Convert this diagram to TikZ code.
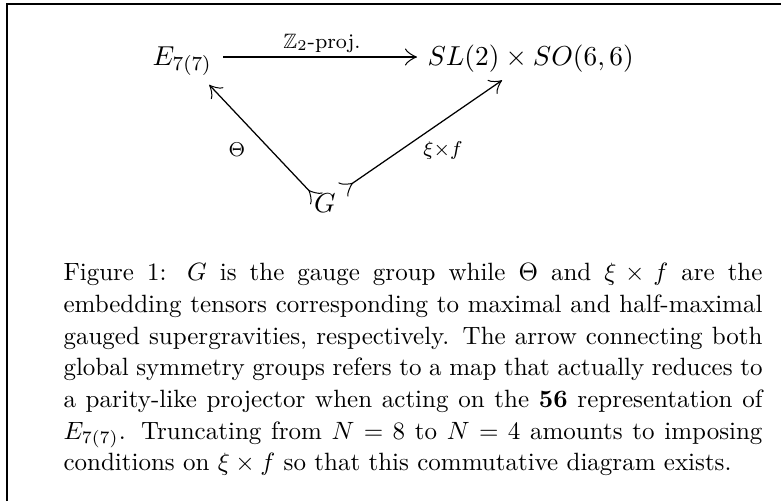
\documentclass[tikz,border=0pt]{standalone}
\usepackage{amssymb}
\usetikzlibrary{arrows.meta}
\begin{document}
\begin{tikzpicture}[x=0.4pt,y=-0.4pt,
  obj/.style={inner sep=0pt, font=\fontsize{11.39}{14}\selectfont},
  lab/.style={inner sep=0pt, font=\fontsize{8.32}{10}\selectfont},
  arr/.style={line width=0.5pt, >={Classical TikZ Rightarrow[length=4.8pt,width=6.8pt]}},
  frameline/.style={line width=0.8pt}]
\useasboundingbox (0,0) rectangle (781,501);
\draw[frameline] (7,501) -- (7,4) -- (781,4);
\node[obj, anchor=base west] (E) at (152,65) {$E_{7(7)}$};
\node[obj, anchor=base west] (S) at (427,65) {$SL(2)\times SO(6,6)$};
\node[obj, anchor=base] (G) at (325,212) {$G$};
\draw[arr,->] ([xshift=4.4pt,yshift=3.2pt]E.base east) -- ([xshift=-4pt,yshift=3.2pt]S.base west);
\draw[arr,>->] ([xshift=1.2pt,yshift=-2.4pt]G.north west) -- ([xshift=-1.2pt,yshift=-3.5pt]E.south east);
\draw[arr,>->] ([xshift=2.7pt,yshift=1.2pt]G.north east) -- ([xshift=30pt,yshift=-3.2pt]S.south west);
\node[lab] (z2) at (322,43) {$\mathbb{Z}_2$-proj.};
\node[lab] (th) at (237,150) {$\Theta$};
\node[lab] (xf) at (443,150) {$\xi{\times}f$};
\node[anchor=north west, inner sep=0pt, text width=279.6pt, align=justify,
  font=\fontsize{10}{12.67}\selectfont] (cap) at (63,258)
{\hyphenpenalty=10000\exhyphenpenalty=10000\tolerance=10000\emergencystretch=20pt
\strut Figure 1: $G$ is the gauge group while $\Theta$ and $\xi\times f$ are the\linebreak
embedding tensors corresponding to maximal and half-maximal\linebreak
gauged supergravities, respectively. The arrow connecting both\linebreak
global symmetry groups refers to a map that actually reduces to\linebreak
a parity-like projector when acting on the \textbf{56} representation of\linebreak
$E_{7(7)}$. Truncating from $N=8$ to $N=4$ amounts to imposing\linebreak
conditions on $\xi\times f$ so that this commutative diagram exists.\par};
\end{tikzpicture}
\end{document}
